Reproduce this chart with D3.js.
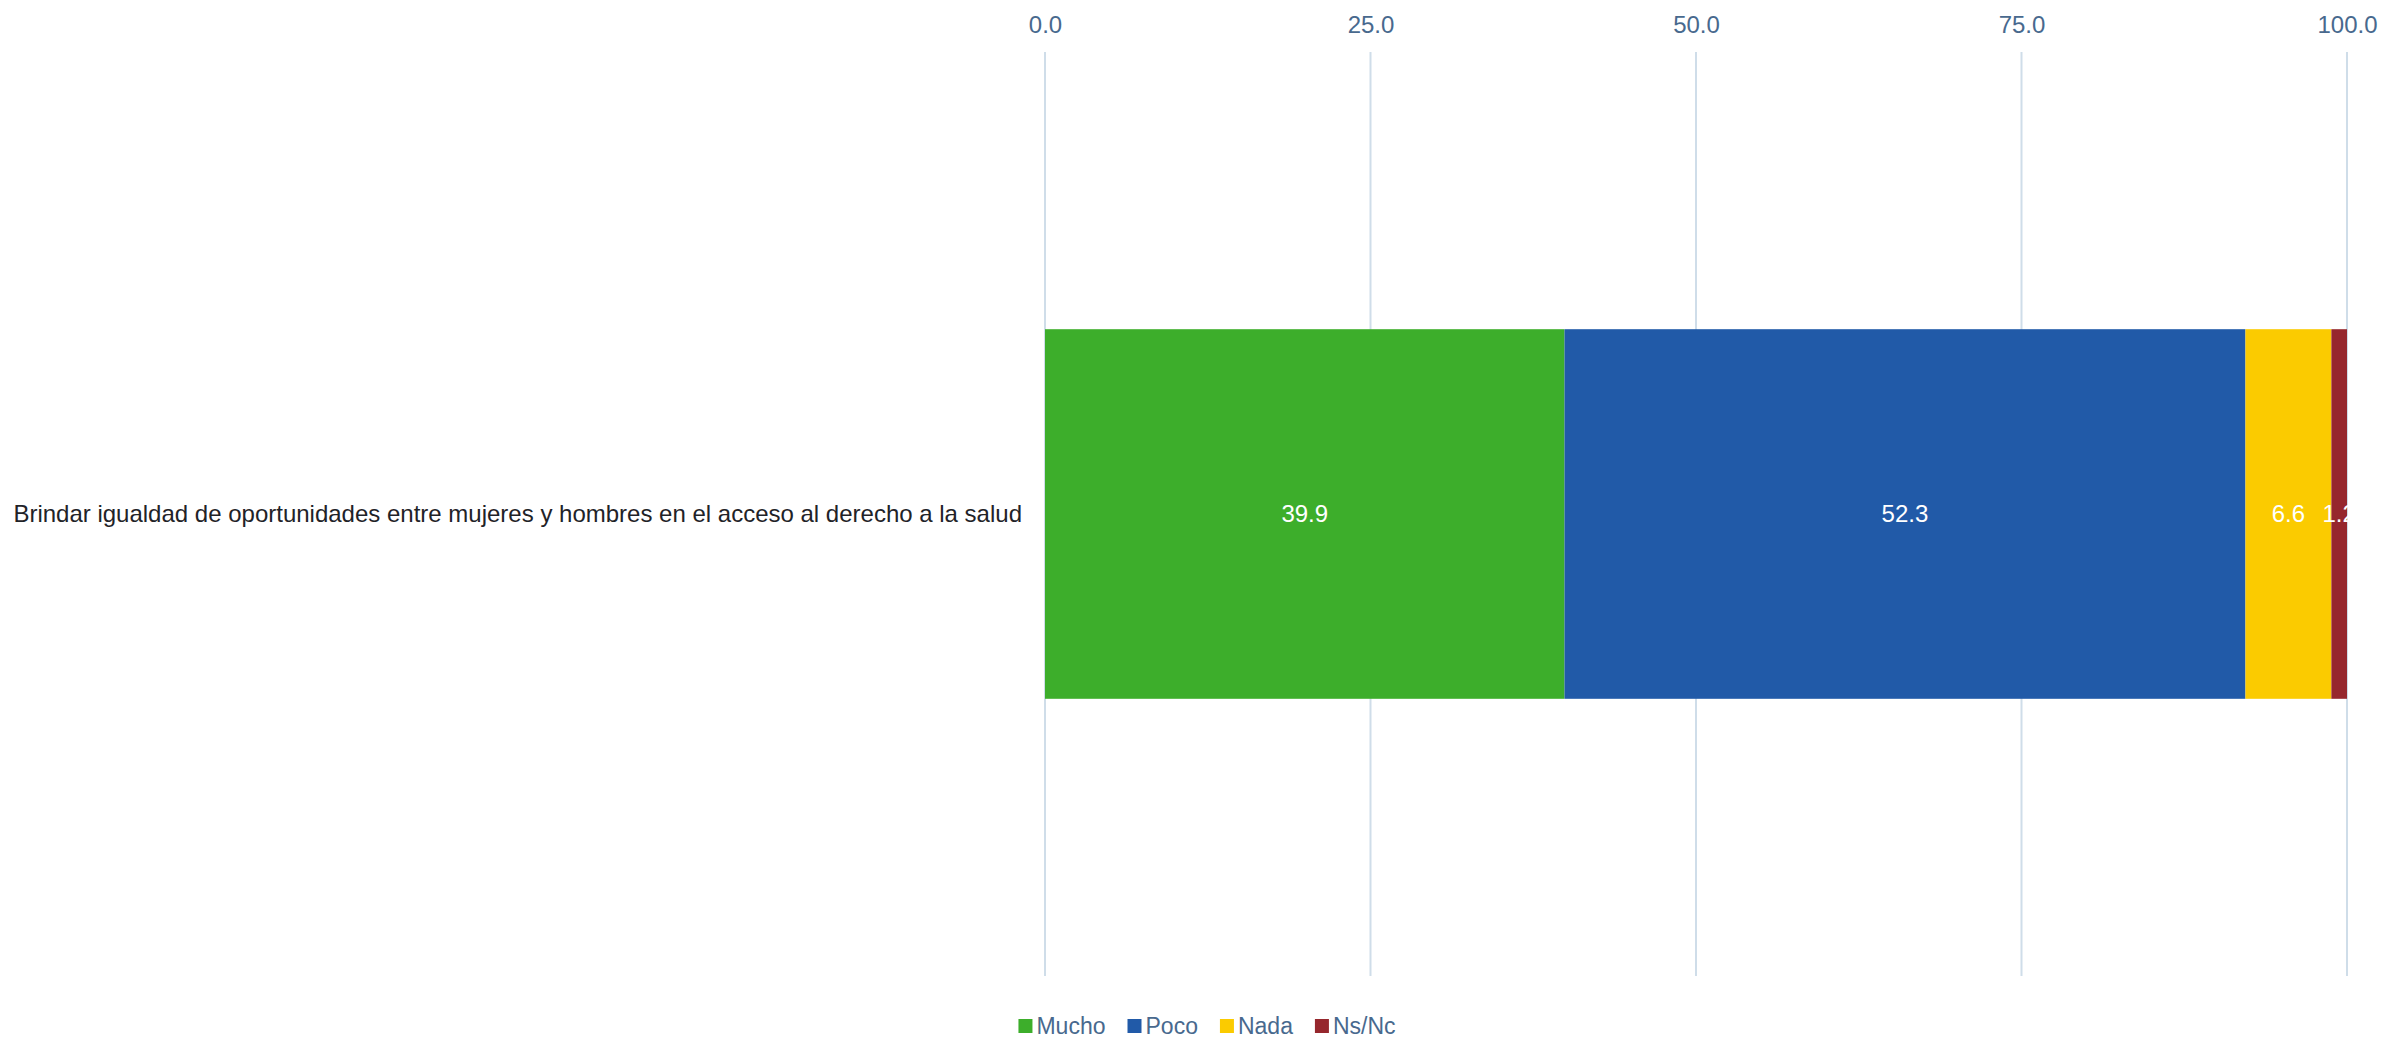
<!DOCTYPE html>
<html>
<head>
<meta charset="utf-8">
<script src="https://cdn.jsdelivr.net/npm/d3@7"></script>
<style>
  html, body { margin: 0; padding: 0; background: #ffffff; }
  svg { display: block; font-family: "Liberation Sans", Arial, sans-serif; }
</style>
</head>
<body>
<svg id="chart" width="2381" height="1038"></svg>
<script>
const categories = ["Brindar igualdad de oportunidades entre mujeres y hombres en el acceso al derecho a la salud"];
const seriesNames = ["Mucho", "Poco", "Nada", "Ns/Nc"];
const seriesValues = {
  "Mucho": [39.9],
  "Poco": [52.3],
  "Nada": [6.6],
  "Ns/Nc": [1.2]
};
const seriesColors = ["#3dae2b", "#215aa8", "#fbcb00", "#96272d"];
const tickValues = [0, 25, 50, 75, 100];

const W = 2381, H = 1038;
const svg = d3.select("#chart");

const x = d3.scaleLinear().domain([0, 100]).range([1045, 2347]);
const y = d3.scaleBand().domain(categories).range([52, 976]).paddingInner(0).paddingOuter(0.75);
const color = d3.scaleOrdinal().domain(seriesNames).range(seriesColors);

// gridlines
svg.append("g").selectAll("line").data(tickValues).join("line")
  .attr("x1", d => x(d)).attr("x2", d => x(d))
  .attr("y1", 52).attr("y2", 976)
  .attr("stroke", "#cfdde9").attr("stroke-width", 2);

// top axis
const axis = d3.axisTop(x).tickValues(tickValues).tickFormat(d3.format(".1f")).tickSize(0).tickPadding(0);
const ax = svg.append("g").attr("transform", "translate(0,33)").call(axis);
ax.select(".domain").remove();
ax.selectAll("text").attr("font-size", 24).attr("fill", "#48698e")
  .attr("font-family", "Liberation Sans, Arial, sans-serif").attr("dy", 0);

// stacked data
const rows = categories.map((c, i) => {
  const r = { category: c };
  seriesNames.forEach(s => r[s] = seriesValues[s][i]);
  return r;
});
const stacked = d3.stack().keys(seriesNames)(rows);

const layer = svg.append("g").selectAll("g").data(stacked).join("g")
  .attr("fill", d => color(d.key));
layer.selectAll("rect").data(d => d).join("rect")
  .attr("x", d => x(d[0]))
  .attr("width", d => x(d[1]) - x(d[0]))
  .attr("y", d => y(d.data.category))
  .attr("height", y.bandwidth());

// value labels
const labels = svg.append("g");
stacked.forEach(s => {
  s.forEach(d => {
    labels.append("text")
      .attr("x", (x(d[0]) + x(d[1])) / 2)
      .attr("y", y(d.data.category) + y.bandwidth() / 2)
      .attr("dy", "0.35em")
      .attr("text-anchor", "middle")
      .attr("font-size", 24)
      .attr("fill", "#ffffff")
      .text(d3.format(".1f")(d.data[s.key]));
  });
});

// category labels
svg.append("g").selectAll("text").data(categories).join("text")
  .attr("x", 1022)
  .attr("y", d => y(d) + y.bandwidth() / 2)
  .attr("dy", "0.35em")
  .attr("text-anchor", "end")
  .attr("font-size", 24)
  .attr("fill", "#1f2328")
  .text(d => d);

// legend
const legend = svg.append("g");
let cx = 0;
seriesNames.forEach((s, i) => {
  const g = legend.append("g");
  g.append("rect").attr("x", 0).attr("y", -7).attr("width", 14).attr("height", 14).attr("fill", color(s));
  const t = g.append("text").attr("x", 18).attr("y", 0).attr("dy", "0.35em")
    .attr("font-size", 23).attr("fill", "#48698e").text(s);
  const w = 18 + t.node().getComputedTextLength();
  g.attr("transform", `translate(${cx},0)`);
  cx += w + 22;
});
const totalW = cx - 22;
legend.attr("transform", `translate(${1207 - totalW / 2},1026)`);
</script>
</body>
</html>
